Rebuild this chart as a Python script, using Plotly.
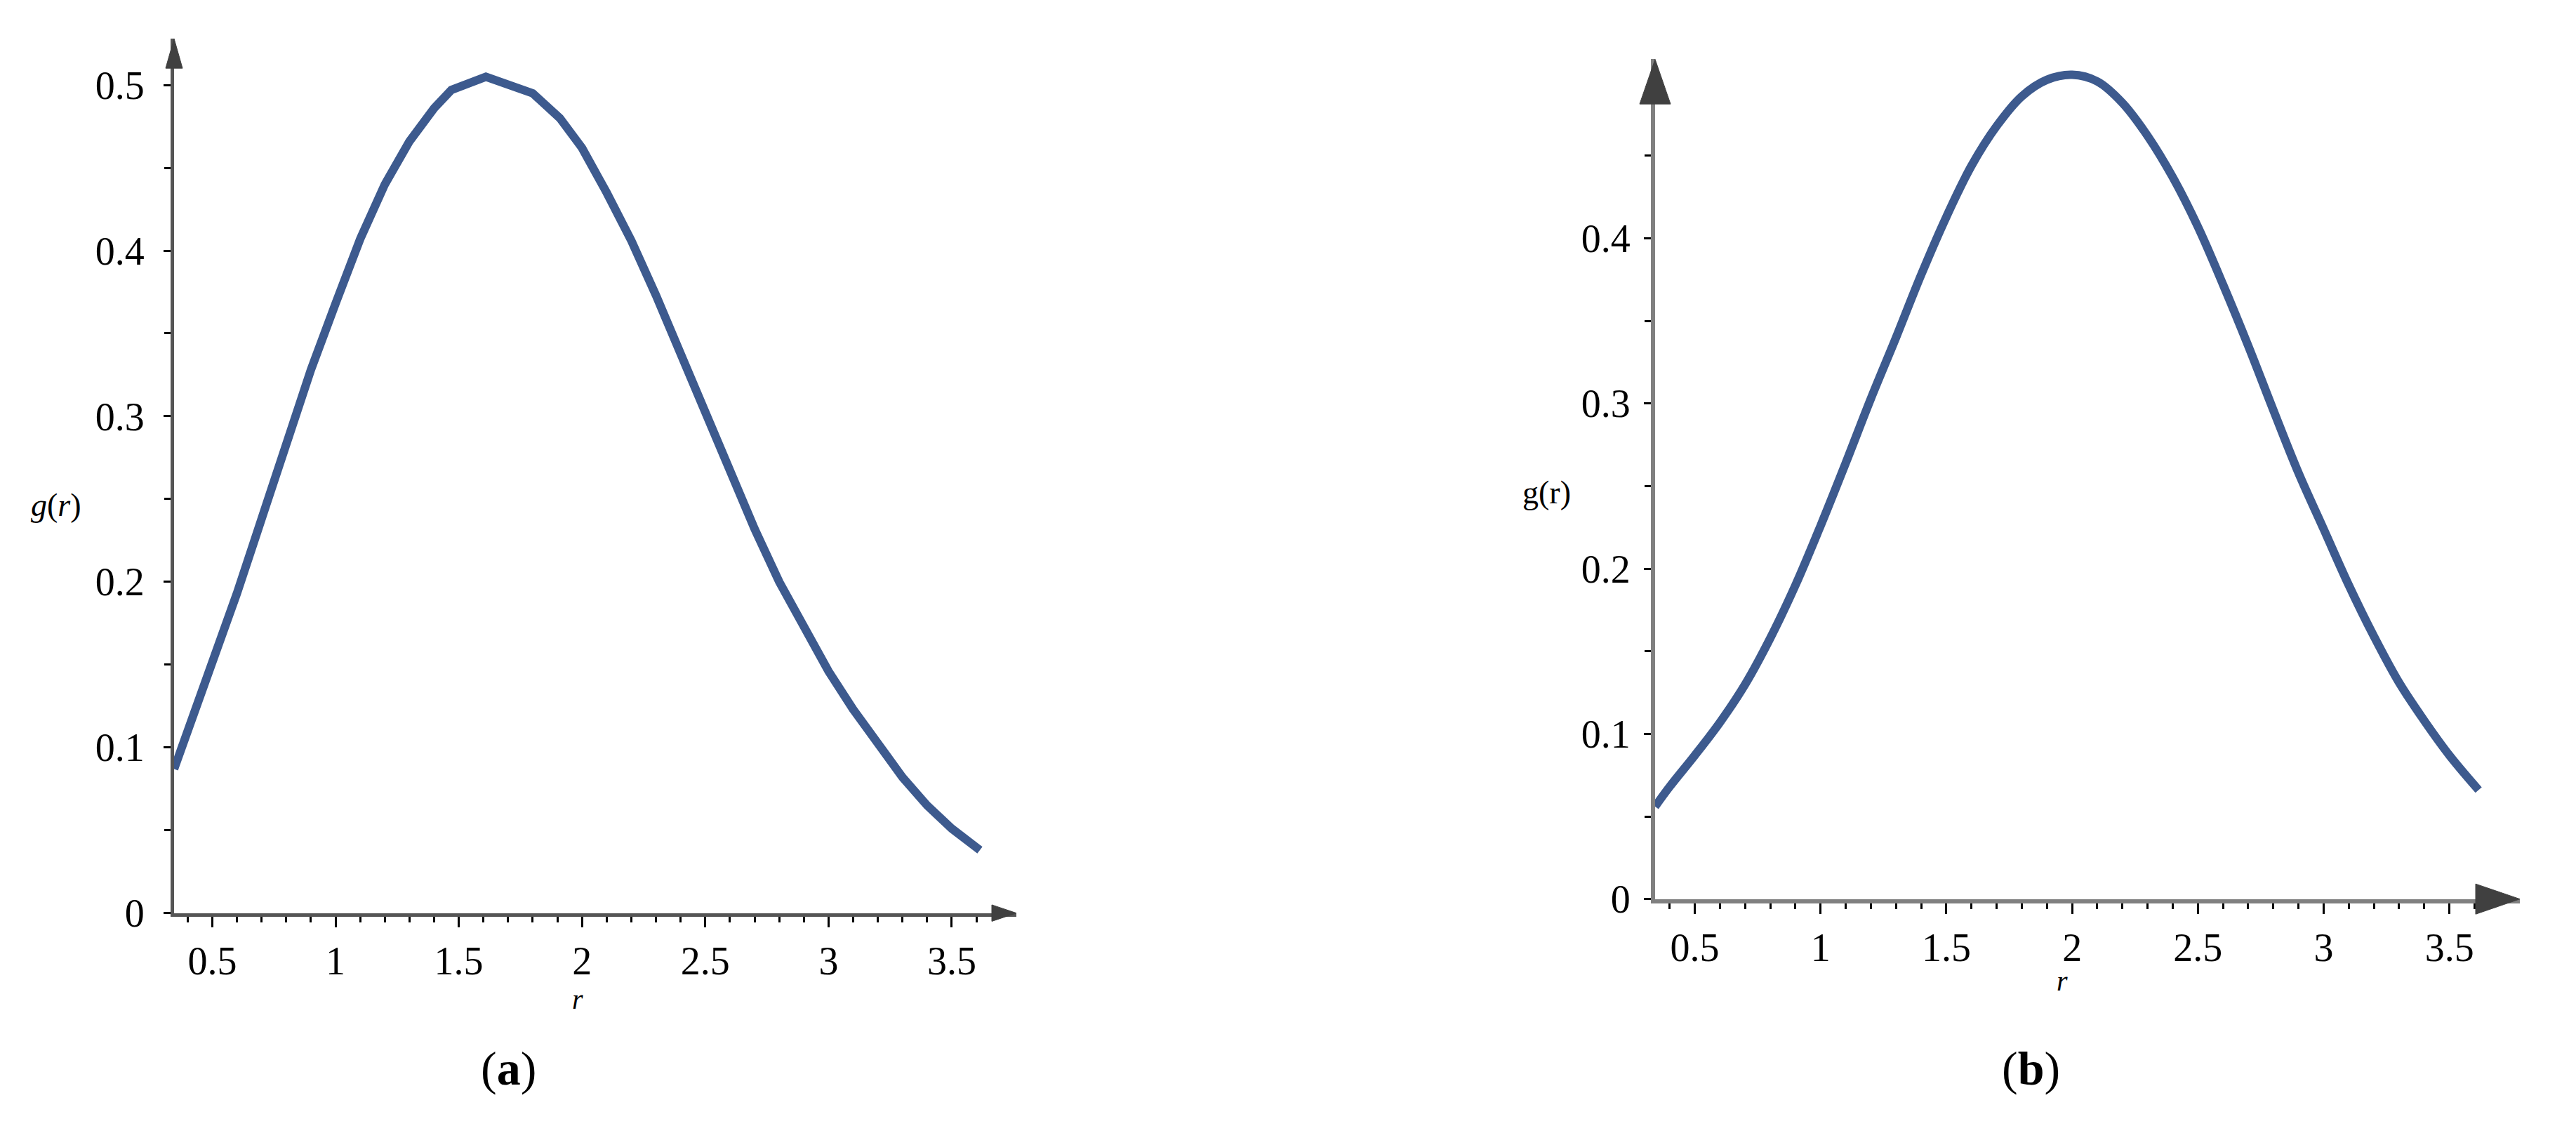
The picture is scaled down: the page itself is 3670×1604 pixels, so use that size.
import plotly.graph_objects as go

# values
r_a = [0.345, 0.4, 0.5, 0.6, 0.7, 0.8, 0.9, 1.0, 1.1, 1.2, 1.3, 1.4, 1.47, 1.61, 1.80,
       1.91, 2.0, 2.1, 2.2, 2.3, 2.4, 2.5, 2.6, 2.7, 2.8, 2.9, 3.0, 3.1, 3.2, 3.3, 3.4,
       3.5, 3.614]
g_a = [0.087, 0.110, 0.150, 0.193, 0.238, 0.285, 0.328, 0.368, 0.407, 0.440, 0.466, 0.486,
       0.497, 0.505, 0.495, 0.480, 0.462, 0.435, 0.406, 0.373, 0.337, 0.303, 0.268, 0.232,
       0.200, 0.173, 0.146, 0.123, 0.102, 0.082, 0.065, 0.051, 0.038]

r_b = [0.342, 0.4, 0.5, 0.6, 0.7, 0.8, 0.9, 1.0, 1.1, 1.2, 1.3, 1.4, 1.5, 1.6, 1.7, 1.8,
       1.9, 2.0, 2.1, 2.2, 2.3, 2.4, 2.5, 2.6, 2.7, 2.8, 2.9, 3.0, 3.1, 3.2, 3.3, 3.4,
       3.5, 3.616]
g_b = [0.056, 0.068, 0.087, 0.107, 0.130, 0.158, 0.190, 0.226, 0.264, 0.303, 0.340, 0.378,
       0.413, 0.444, 0.468, 0.486, 0.496, 0.499, 0.495, 0.482, 0.462, 0.437, 0.407, 0.372,
       0.335, 0.296, 0.258, 0.224, 0.190, 0.159, 0.131, 0.108, 0.087, 0.066]

x_ticks = [0.5, 1, 1.5, 2, 2.5, 3, 3.5]
x_labels = ["0.5", "1", "1.5", "2", "2.5", "3", "3.5"]
x_minor = [0.4, 0.6, 0.7, 0.8, 0.9, 1.1, 1.2, 1.3, 1.4, 1.6, 1.7, 1.8, 1.9,
           2.1, 2.2, 2.3, 2.4, 2.6, 2.7, 2.8, 2.9, 3.1, 3.2, 3.3, 3.4, 3.6]
y_ticks_a = [0, 0.1, 0.2, 0.3, 0.4, 0.5]
y_ticks_b = [0, 0.1, 0.2, 0.3, 0.4]
y_minor = [0.05, 0.15, 0.25, 0.35, 0.45]

xr_a = [0.345, 3.762]
yr_a = [0, 0.528]
xr_b = [0.342, 3.78]
yr_b = [0, 0.5084]

W, H = 3670, 1604
xd_a = [240 / W, 1440 / W]
yd_a = [1 - 1319 / H, 1 - 48 / H]
xd_b = [2350 / W, 3582 / W]
yd_b = [1 - 1298.6 / H, 1 - 78 / H]

LINE = "#3d5a8e"
SERIF = "Liberation Serif"

fig = go.Figure()
fig.add_trace(go.Scatter(x=r_a, y=g_a, mode="lines", xaxis="x", yaxis="y",
                         line=dict(color=LINE, width=12), showlegend=False))
fig.add_trace(go.Scatter(x=r_b, y=g_b, mode="lines", xaxis="x2", yaxis="y2",
                         line=dict(color=LINE, width=12, shape="spline"), showlegend=False))


def xax(dom, rng, anchor, col, lw):
    return dict(domain=dom, range=rng, anchor=anchor, showgrid=False, zeroline=False,
                showline=True, linecolor=col, linewidth=lw,
                tickmode="array", tickvals=x_ticks, ticktext=x_labels,
                ticks="outside", ticklen=15, tickwidth=3, tickcolor="black",
                minor=dict(tickmode="array", tickvals=x_minor, ticks="outside",
                           ticklen=8, tickwidth=3, tickcolor="black"),
                tickfont=dict(family=SERIF, size=56, color="black"), ticklabelstandoff=0)


def yax(dom, rng, anchor, col, lw, vals, standoff):
    return dict(domain=dom, range=rng, anchor=anchor, showgrid=False, zeroline=False,
                showline=True, linecolor=col, linewidth=lw,
                tickmode="array", tickvals=vals, ticktext=[f"{v:g}" for v in vals],
                ticks="outside", ticklen=10, tickwidth=3, tickcolor="black",
                minor=dict(tickmode="array", tickvals=y_minor, ticks="outside",
                           ticklen=9, tickwidth=3, tickcolor="black"),
                tickfont=dict(family=SERIF, size=56, color="black"), ticklabelstandoff=standoff)


fig.update_layout(
    width=W, height=H,
    margin=dict(l=0, r=0, t=0, b=0),
    paper_bgcolor="white", plot_bgcolor="white",
    xaxis=xax(xd_a, xr_a, "y", "#555555", 5),
    yaxis=yax(yd_a, yr_a, "x", "#555555", 5, y_ticks_a, 16),
    xaxis2=xax(xd_b, xr_b, "y2", "#808080", 6),
    yaxis2=yax(yd_b, yr_b, "x2", "#808080", 6, y_ticks_b, 8),
)

# arrow heads at the ends of the axes (paper coordinates)
ARROW = "#404040"


def up_arrow(x, y, half, length):
    return (f"M {x - half / W} {y - length / H} L {x + half / W} {y - length / H} "
            f"L {x} {y} Z")


def right_arrow(x, y, half, length):
    return (f"M {x - length / W} {y - half / H} L {x - length / W} {y + half / H} "
            f"L {x} {y} Z")


arrows = [
    up_arrow(xd_a[0], yd_a[1], 12, 43),
    right_arrow(xd_a[1], yd_a[0], 12, 35),
    up_arrow(xd_b[0], yd_b[1], 22, 65),
    right_arrow(xd_b[1], yd_b[0], 22, 63),
]
for p in arrows:
    fig.add_shape(type="path", xref="paper", yref="paper", path=p, fillcolor=ARROW,
                  line=dict(color=ARROW, width=1), layer="above")

labels = [
    ("<i>g</i>(<i>r</i>)", 72, 726, 46),
    ("<i>r</i>", 815, 1444, 40),
    ("g(r)", 2195, 708, 46),
    ("<i>r</i>", 2930, 1418, 40),
    ("(<b>a</b>)", 716, 1545, 68),
    ("(<b>b</b>)", 2885, 1545, 68),
]
for txt, px, py, s in labels:
    fig.add_annotation(text=txt, x=px / W, y=1 - py / H, xref="paper", yref="paper",
                       showarrow=False, xanchor="center", yanchor="middle",
                       font=dict(family=SERIF, size=s, color="black"))

fig.write_html("out.html")
